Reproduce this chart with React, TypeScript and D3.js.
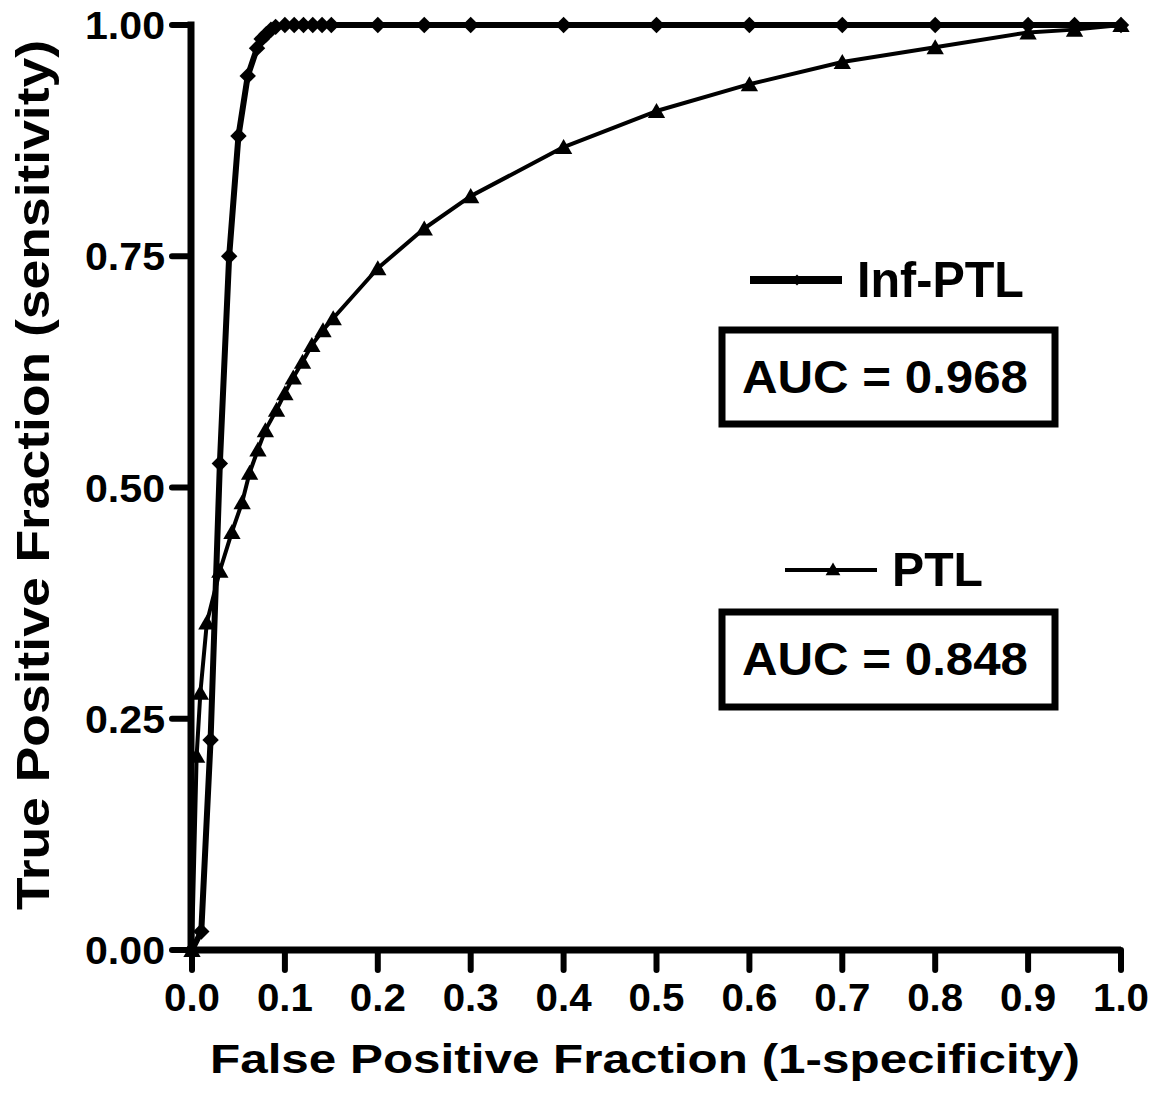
import React from "react";
import * as d3 from "d3";

const infX = [0, 0.01, 0.02, 0.03, 0.04, 0.05, 0.06, 0.07, 0.075, 0.08, 0.085, 0.09, 0.1, 0.11, 0.12, 0.13, 0.14, 0.15, 0.2, 0.25, 0.3, 0.4, 0.5, 0.6, 0.7, 0.8, 0.9, 0.95, 1.0];
const infY = [0, 0.02, 0.227, 0.526, 0.75, 0.88, 0.945, 0.975, 0.985, 0.99, 0.995, 0.998, 1, 1, 1, 1, 1, 1, 1, 1, 1, 1, 1, 1, 1, 1, 1, 1, 1];

const ptlX = [0, 0.005, 0.009, 0.016, 0.03, 0.043, 0.054, 0.062, 0.071, 0.079, 0.091, 0.1, 0.109, 0.119, 0.129, 0.141, 0.152, 0.2, 0.25, 0.3, 0.4, 0.5, 0.6, 0.7, 0.8, 0.9, 0.95, 1.0];
const ptlY = [0, 0.21, 0.278, 0.354, 0.41, 0.452, 0.484, 0.516, 0.541, 0.562, 0.584, 0.602, 0.619, 0.636, 0.654, 0.67, 0.683, 0.737, 0.78, 0.815, 0.868, 0.907, 0.936, 0.96, 0.976, 0.992, 0.995, 1.0];

const xTicks = [0, 0.1, 0.2, 0.3, 0.4, 0.5, 0.6, 0.7, 0.8, 0.9, 1.0];
const yTicks = [0, 0.25, 0.5, 0.75, 1.0];

const seriesNames = ["Inf-PTL", "PTL"];
const aucLabels = ["AUC = 0.968", "AUC = 0.848"];
const xTitle = "False Positive Fraction (1-specificity)";
const yTitle = "True Positive Fraction (sensitivity)";

const FONT = "'Liberation Sans', Arial, Helvetica, sans-serif";

export default function App() {
  const x = d3.scaleLinear().domain([0, 1]).range([192, 1121]);
  const y = d3.scaleLinear().domain([0, 1]).range([950, 25]);

  const infData = infX.map((v, i) => [v, infY[i]] as [number, number]);
  const ptlData = ptlX.map((v, i) => [v, ptlY[i]] as [number, number]);

  const line = d3
    .line<[number, number]>()
    .x((d) => x(d[0]))
    .y((d) => y(d[1]));

  const diamond = d3.symbol(d3.symbolSquare, 135)();
  const diamondSmall = d3.symbol(d3.symbolSquare, 60)();
  const tri = d3.symbol(d3.symbolTriangle, 130)();
  const triSmall = d3.symbol(d3.symbolTriangle, 95)();

  const yFmt = d3.format(".2f");
  const xFmt = d3.format(".1f");

  return (
    <svg
      width={1168}
      height={1102}
      style={{ position: "absolute", left: 0, top: 0, background: "#fff" }}
      fontFamily={FONT}
      fontWeight="bold"
    >
      <rect x={0} y={0} width={1168} height={1102} fill="#fff" />

      {/* PTL series */}
      <path d={line(ptlData) || ""} fill="none" stroke="#000" strokeWidth={4} strokeLinejoin="round" />
      {ptlData.map((d, i) => (
        <path key={"p" + i} d={tri || ""} transform={`translate(${x(d[0])},${y(d[1]) + 2})`} fill="#000" />
      ))}

      {/* Inf-PTL series */}
      <path d={line(infData) || ""} fill="none" stroke="#000" strokeWidth={6} strokeLinejoin="round" />
      {infData.map((d, i) => (
        <path key={"i" + i} d={diamond || ""} transform={`translate(${x(d[0])},${y(d[1])}) rotate(45)`} fill="#000" />
      ))}

      {/* Axes */}
      <line x1={191} x2={191} y1={21.5} y2={953.5} stroke="#000" strokeWidth={7} />
      <line x1={187.5} x2={1121} y1={950} y2={950} stroke="#000" strokeWidth={7} />
      {yTicks.map((t) => (
        <g key={"yt" + t}>
          <line x1={172} x2={191} y1={y(t)} y2={y(t)} stroke="#000" strokeWidth={6} strokeLinecap="round" />
          <text x={165} y={y(t) + 14} textAnchor="end" fontSize={39} textLength={80} lengthAdjust="spacingAndGlyphs">
            {yFmt(t)}
          </text>
        </g>
      ))}
      {xTicks.map((t) => (
        <g key={"xt" + t}>
          <line x1={x(t)} x2={x(t)} y1={950} y2={970} stroke="#000" strokeWidth={6} strokeLinecap="round" />
          <text x={x(t)} y={1011} textAnchor="middle" fontSize={39} textLength={56} lengthAdjust="spacingAndGlyphs">
            {xFmt(t)}
          </text>
        </g>
      ))}

      {/* Axis titles */}
      <text x={645} y={1073} textAnchor="middle" fontSize={41} textLength={870} lengthAdjust="spacingAndGlyphs">
        {xTitle}
      </text>
      <text
        transform="translate(49,475) rotate(-90)"
        textAnchor="middle"
        fontSize={47}
        textLength={870}
        lengthAdjust="spacingAndGlyphs"
      >
        {yTitle}
      </text>

      {/* Legend Inf-PTL */}
      <line x1={750} x2={842} y1={280} y2={280} stroke="#000" strokeWidth={8} />
      <path d={diamondSmall || ""} transform="translate(797,280) rotate(45)" fill="#000" />
      <text x={857} y={297} fontSize={50} textLength={167} lengthAdjust="spacingAndGlyphs">
        {seriesNames[0]}
      </text>
      <rect x={722} y={330} width={333} height={94} fill="none" stroke="#000" strokeWidth={7} />
      <text x={885} y={393} textAnchor="middle" fontSize={46} textLength={286} lengthAdjust="spacingAndGlyphs">
        {aucLabels[0]}
      </text>

      {/* Legend PTL */}
      <line x1={785} x2={877} y1={570} y2={570} stroke="#000" strokeWidth={4} />
      <path d={triSmall || ""} transform="translate(833,571)" fill="#000" />
      <text x={892} y={586} fontSize={48} textLength={91} lengthAdjust="spacingAndGlyphs">
        {seriesNames[1]}
      </text>
      <rect x={722} y={612} width={333} height={95} fill="none" stroke="#000" strokeWidth={7} />
      <text x={885} y={675} textAnchor="middle" fontSize={46} textLength={286} lengthAdjust="spacingAndGlyphs">
        {aucLabels[1]}
      </text>
    </svg>
  );
}
